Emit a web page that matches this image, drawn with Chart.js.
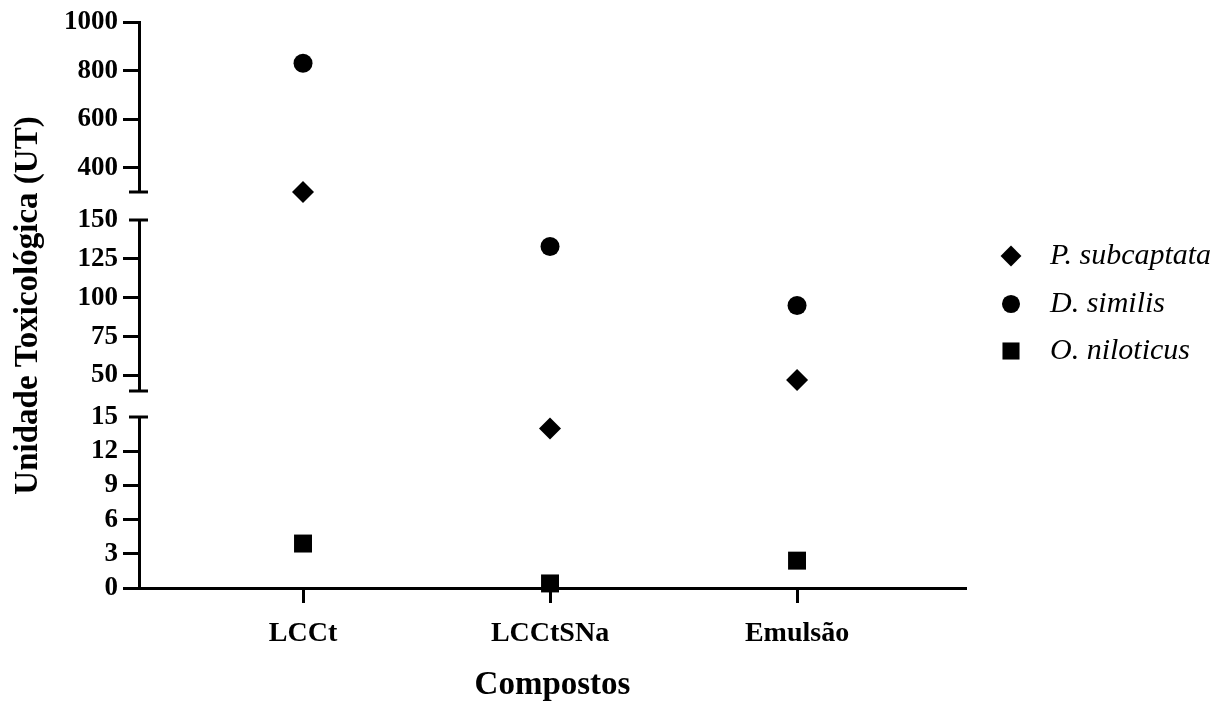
<!DOCTYPE html>
<html><head><meta charset="utf-8">
<script src="https://cdn.jsdelivr.net/npm/chart.js@4/dist/chart.umd.min.js"></script>
<style>html,body{margin:0;padding:0;background:#fff;} #wrap{width:1221px;height:702px;}</style>
</head><body><div id="wrap"><canvas id="c" width="1221" height="702"></canvas></div>
<script>
// ---- data ----
const categories = ['LCCt', 'LCCtSNa', 'Emulsão'];
const seriesNames = ['P. subcaptata', 'D. similis', 'O. niloticus'];
const pSubcaptata = [300, 14, 47];
const dSimilis = [830, 133, 95];
const oNiloticus = [3.9, 0.4, 2.4];
const bottomTicks = [0, 3, 6, 9, 12, 15];
const middleTicks = [50, 75, 100, 125, 150];
const topTicks = [400, 600, 800, 1000];
const segmentMins = [0, 40, 300];
const segmentMaxs = [15, 150, 1000];

// ---- styles ----
const FONT = '"Liberation Serif", "Times New Roman", serif';
const seriesValues = [pSubcaptata, dSimilis, oNiloticus];
const seriesStyles = [
  {pointStyle: 'rectRot', radius: 11},
  {pointStyle: 'circle', radius: 9.5},
  {pointStyle: 'rect', radius: 12.7}
];
const segmentIds = ['yLow', 'yMid', 'yHigh'];
const segmentTicks = [bottomTicks, middleTicks, topTicks];
const segmentWeights = [171, 171, 170];
const gapWeights = [26, 28];
const AXIS_W = 139;

function inSegment(v, k) { return v >= segmentMins[k] && v <= segmentMaxs[k]; }

const datasets = [];
seriesValues.forEach((vals, s) => {
  segmentIds.forEach((id, k) => {
    const pts = [];
    vals.forEach((v, i) => { if (inSegment(v, k)) pts.push({x: i, y: v}); });
    if (!pts.length) return;
    datasets.push({
      label: seriesNames[s],
      data: pts,
      yAxisID: id,
      xAxisID: 'x',
      pointStyle: seriesStyles[s].pointStyle,
      pointRadius: seriesStyles[s].radius,
      pointHoverRadius: seriesStyles[s].radius,
      pointBackgroundColor: '#000',
      pointBorderColor: '#000',
      pointBorderWidth: 0,
      showLine: false,
      clip: false
    });
  });
});

function yAxis(k) {
  const isBreakEnd = (v) => (k > 0 && v === segmentMins[k]) || (k < segmentIds.length - 1 && v === segmentMaxs[k]);
  return {
    type: 'linear', position: 'left', stack: 'y', stackWeight: segmentWeights[k], weight: 1 + 2 * k,
    min: segmentMins[k], max: segmentMaxs[k], offset: false,
    afterBuildTicks: (s) => { s.ticks = segmentTicks[k].map(v => ({value: v})); },
    border: {display: true, color: '#000', width: 3},
    grid: {display: true, drawOnChartArea: false, drawTicks: true, tickLength: 16, tickWidth: 3,
      color: '#000', tickColor: (ctx) => (ctx.tick && isBreakEnd(ctx.tick.value)) ? 'rgba(0,0,0,0)' : '#000'},
    ticks: {color: '#000', font: {family: FONT, size: 27, weight: 'bold'}, padding: 5, autoSkip: false,
      callback: (v) => String(v)},
    title: k === 1 ? {display: true, text: 'Unidade Toxicológica (UT)', color: '#000',
      font: {family: FONT, size: 33, weight: 'bold'}, padding: {top: 9, bottom: 0}} : {display: false},
    afterFit: (s) => { s.width = AXIS_W; }
  };
}
function gapAxis(g) {
  return {
    type: 'linear', position: 'left', stack: 'y', stackWeight: gapWeights[g], weight: 2 + 2 * g,
    min: 0, max: 1, display: true,
    grid: {display: false}, border: {display: false}, ticks: {display: false},
    afterFit: (s) => { s.width = AXIS_W; }
  };
}

const breakCaps = {
  id: 'breakCaps',
  afterDraw(chart) {
    const ctx = chart.ctx;
    ctx.save();
    ctx.strokeStyle = '#000';
    ctx.lineWidth = 3;
    segmentIds.forEach((id, k) => {
      const sc = chart.scales[id];
      const x = sc.right;
      const ends = [];
      if (k > 0) ends.push(segmentMins[k]);
      if (k < segmentIds.length - 1) ends.push(segmentMaxs[k]);
      ends.forEach(v => {
        const y = sc.getPixelForValue(v);
        ctx.beginPath(); ctx.moveTo(x - 10, y); ctx.lineTo(x + 9, y); ctx.stroke();
      });
    });
    ctx.restore();
  }
};

const legendRowsY = [256, 304, 351];
const customLegend = {
  id: 'customLegend',
  afterDraw(chart) {
    const ctx = chart.ctx;
    ctx.save();
    ctx.fillStyle = '#000';
    ctx.strokeStyle = '#000';
    seriesNames.forEach((name, s) => {
      const y = legendRowsY[s];
      Chart.helpers.drawPoint(ctx, {pointStyle: seriesStyles[s].pointStyle, radius: seriesStyles[s].radius * 0.95, rotation: 0, borderWidth: 0}, 1011, y);
      ctx.font = 'italic 30px ' + FONT;
      ctx.textBaseline = 'middle';
      ctx.textAlign = 'left';
      ctx.fillText(name, 1050, y);
    });
    ctx.restore();
  }
};

new Chart(document.getElementById('c'), {
  type: 'scatter',
  data: {datasets},
  options: {
    responsive: false, animation: false, devicePixelRatio: 1,
    layout: {padding: {top: 22, right: 255, bottom: 0, left: 0}},
    plugins: {legend: {display: false}, tooltip: {enabled: false}},
    scales: {
      x: {
        type: 'linear', position: 'bottom', min: -0.664, max: 2.684,
        afterBuildTicks: (s) => { s.ticks = categories.map((c, i) => ({value: i})); },
        ticks: {callback: (v) => categories[v] ?? '', color: '#000', font: {family: FONT, size: 28, weight: 'bold'},
          padding: 14, autoSkip: false, maxRotation: 0},
        grid: {display: true, drawOnChartArea: false, drawTicks: true, tickLength: 15, tickWidth: 3, tickColor: '#000', color: '#000'},
        border: {color: '#000', width: 3},
        title: {display: true, text: 'Compostos', color: '#000', font: {family: FONT, size: 33, weight: 'bold'}, padding: {top: 0, bottom: -3}},
        afterFit: (s) => { s.height = 114; }
      },
      yLow: yAxis(0),
      gap1: gapAxis(0),
      yMid: yAxis(1),
      gap2: gapAxis(1),
      yHigh: yAxis(2)
    }
  },
  plugins: [breakCaps, customLegend]
});
</script>
</body></html>
